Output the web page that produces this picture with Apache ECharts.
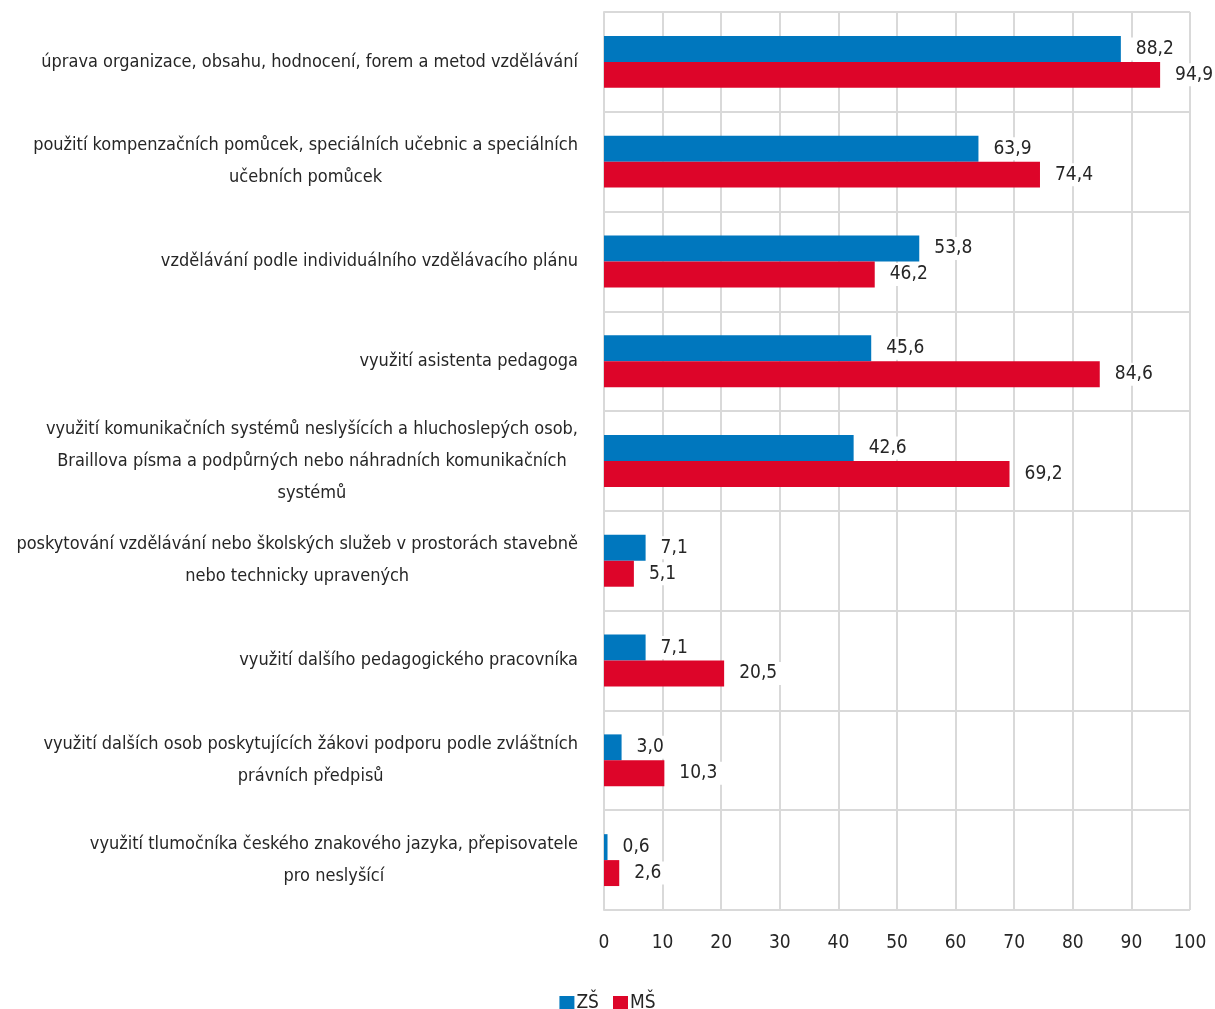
<!DOCTYPE html>
<html>
<head>
<meta charset="utf-8">
<script src="https://cdn.jsdelivr.net/npm/echarts@6/dist/echarts.min.js"></script>
<style>
  html, body { margin: 0; padding: 0; background: #fff; }
  #main { width: 1215px; height: 1009px; }
</style>
</head>
<body>
<div id="main"></div>
<script>
// kategorie (shora dolů)
var categories = [
  'úprava organizace, obsahu, hodnocení, forem a metod vzdělávání',
  'použití kompenzačních pomůcek, speciálních učebnic a speciálních\nučebních pomůcek',
  'vzdělávání podle individuálního vzdělávacího plánu',
  'využití asistenta pedagoga',
  'využití komunikačních systémů neslyšících a hluchoslepých osob,\nBraillova písma a podpůrných nebo náhradních komunikačních\nsystémů',
  'poskytování vzdělávání nebo školských služeb v prostorách stavebně\nnebo technicky upravených',
  'využití dalšího pedagogického pracovníka',
  'využití dalších osob poskytujících žákovi podporu podle zvláštních\nprávních předpisů',
  'využití tlumočníka českého znakového jazyka, přepisovatele\npro neslyšící'
];
var seriesNames = ['ZŠ', 'MŠ'];
var zsValues = [88.2, 63.9, 53.8, 45.6, 42.6, 7.1, 7.1, 3.0, 0.6];
var msValues = [94.9, 74.4, 46.2, 84.6, 69.2, 5.1, 20.5, 10.3, 2.6];

var FONT = '"DejaVu Sans Condensed", "Liberation Sans Narrow", "Noto Sans", sans-serif';
var TXT = '#262626';
var GRID = '#d9d9d9';

var myChart = echarts.init(document.getElementById('main'));

function fmt(p) {
  return p.value.toFixed(1).replace('.', ',');
}

var barLabel = {
  show: true,
  position: 'right',
  distance: 9,
  formatter: fmt,
  color: TXT,
  fontFamily: FONT,
  fontSize: 19,
  backgroundColor: '#fff',
  padding: [2, 6]
};

myChart.setOption({
  animation: false,
  textStyle: { fontFamily: FONT },
  grid: { left: 604, right: 25, top: 12, bottom: 99, outerBoundsMode: 'none', containLabel: false },
  legend: {
    data: seriesNames,
    top: 989,
    left: 'center',
    itemWidth: 15,
    itemHeight: 15,
    itemGap: 14,
    icon: 'rect',
    textStyle: { color: TXT, fontSize: 19, fontFamily: FONT, padding: [0, 0, 0, -3] }
  },
  xAxis: {
    type: 'value',
    min: 0,
    max: 100,
    interval: 10,
    axisLine: { show: false },
    axisTick: { show: false },
    splitLine: { show: true, lineStyle: { color: GRID, width: 2 } },
    axisLabel: { color: TXT, fontSize: 19, fontFamily: FONT, margin: 24 }
  },
  yAxis: {
    type: 'category',
    data: categories,
    inverse: true,
    axisLine: { show: true, lineStyle: { color: GRID, width: 2 } },
    axisTick: { show: false },
    splitLine: { show: true, lineStyle: { color: GRID, width: 2 } },
    axisLabel: {
      margin: 26,
      formatter: function (v) {
        return v.split('\n').map(function (l) { return '{c|' + l + '}'; }).join('\n');
      },
      rich: {
        c: { align: 'center', color: TXT, fontSize: 18, fontFamily: FONT, lineHeight: 32 }
      }
    }
  },
  series: [
    {
      name: seriesNames[0],
      type: 'bar',
      data: zsValues,
      barCategoryGap: '48%',
      barGap: '0%',
      itemStyle: { color: '#0077be' },
      label: barLabel
    },
    {
      name: seriesNames[1],
      type: 'bar',
      data: msValues,
      barCategoryGap: '48%',
      barGap: '0%',
      itemStyle: { color: '#dd0529' },
      label: barLabel
    }
  ]
});
</script>
</body>
</html>
